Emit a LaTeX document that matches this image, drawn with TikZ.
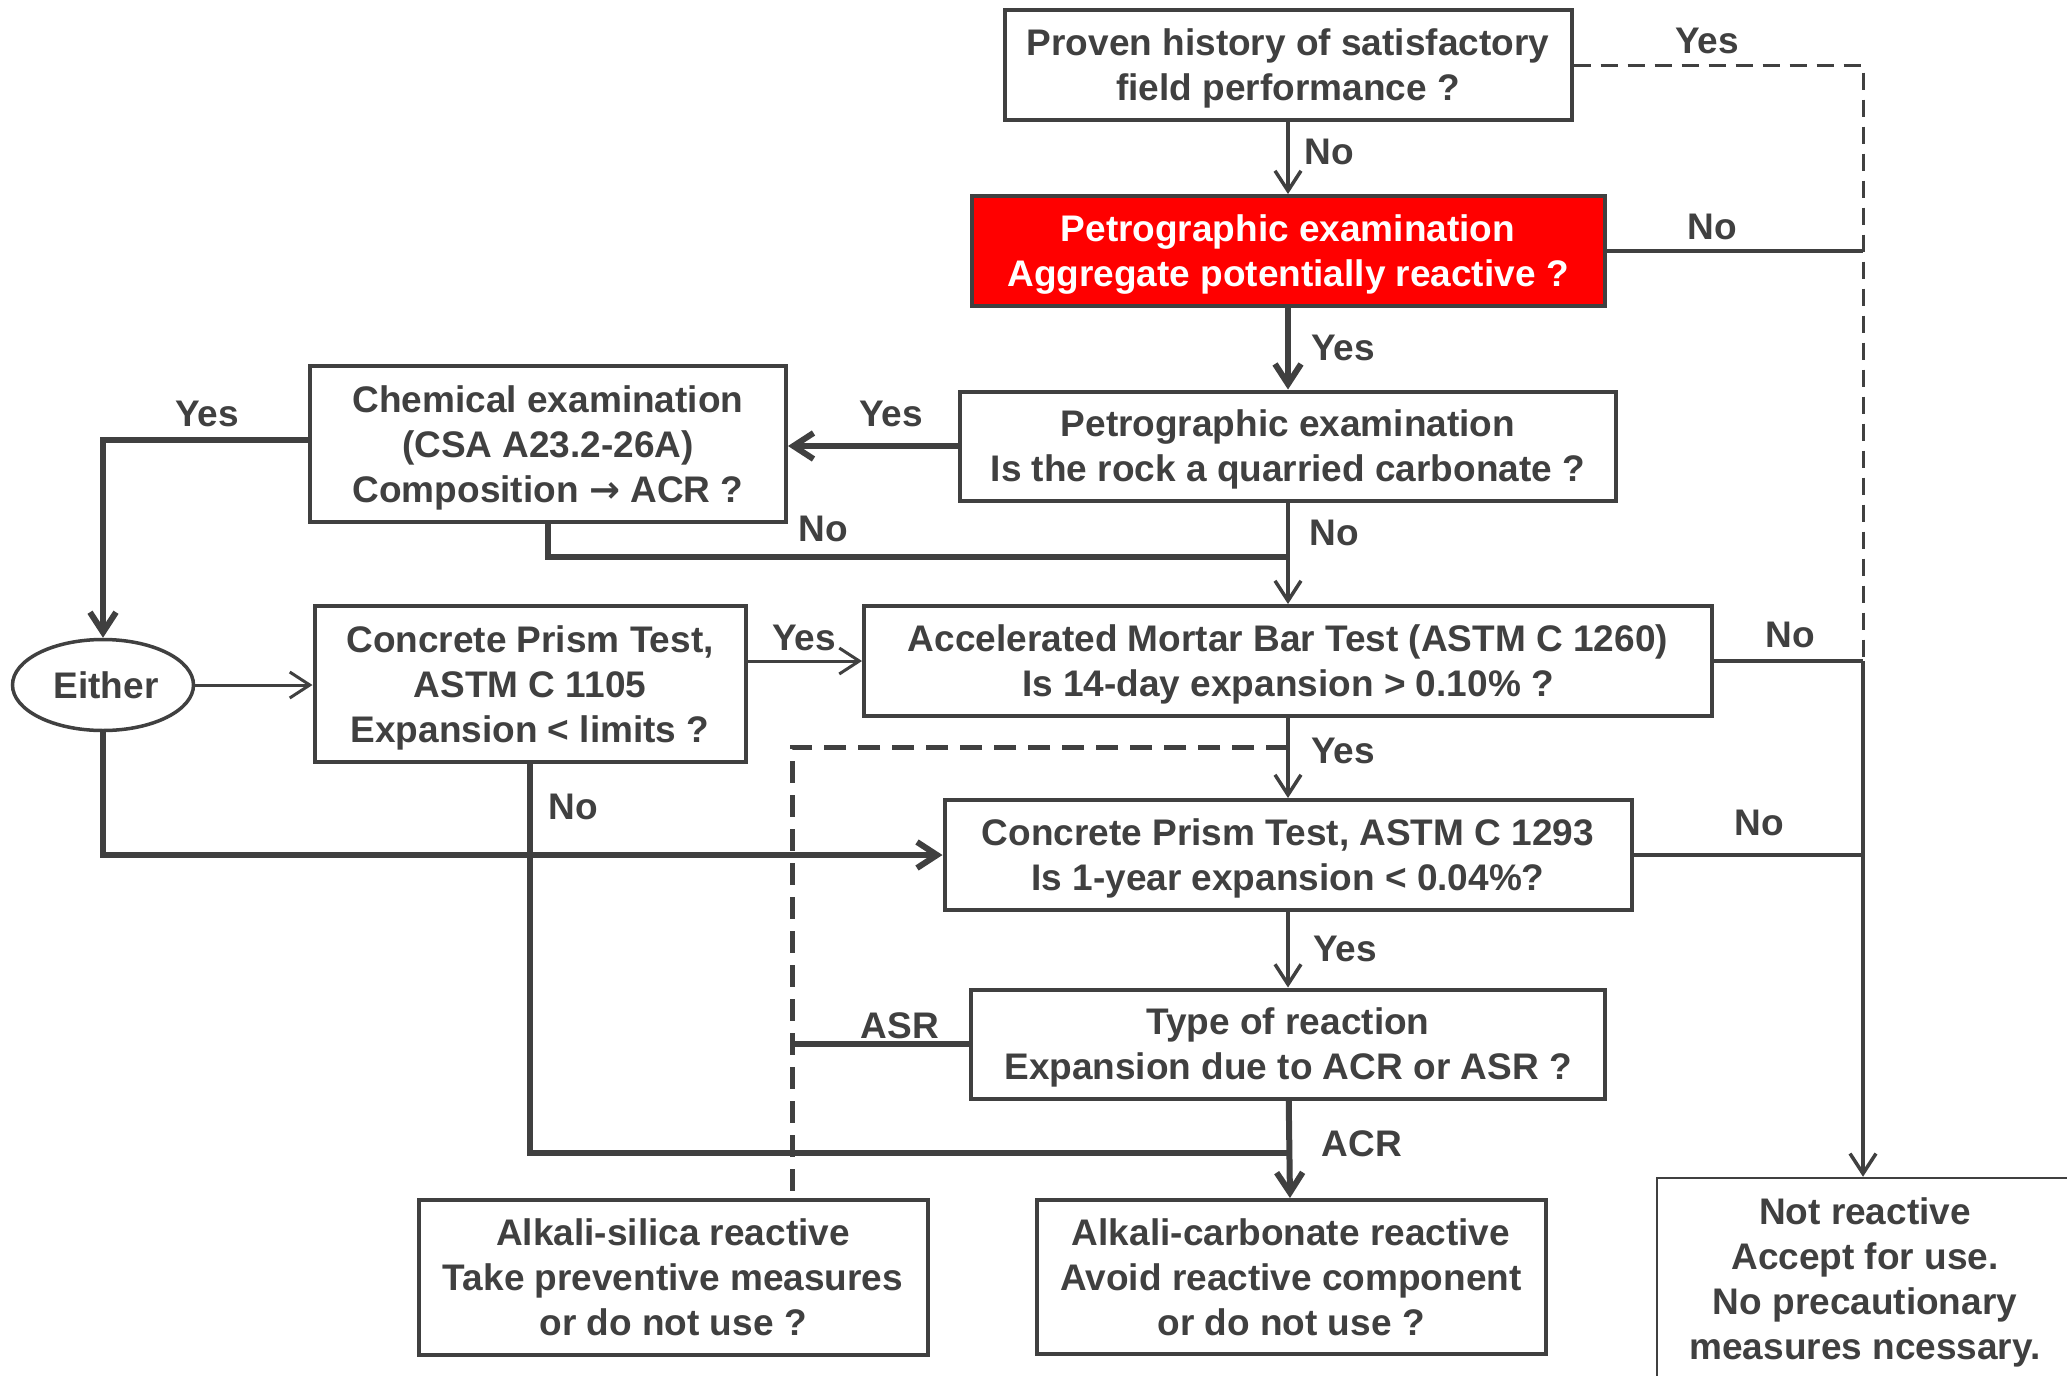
\documentclass[tikz,border=0pt]{standalone}
\usepackage{fontspec}
\setmainfont{Liberation Sans}
\newfontfamily\arrowfont{DejaVu Sans}
\usepackage{xcolor}
\usepackage{tikz}
\usetikzlibrary{arrows.meta, shapes, calc, positioning}
\definecolor{ink}{HTML}{404040}

\begin{document}
\begin{tikzpicture}[x=1pt, y=-1pt, ink,
	every node/.style={font=\fontsize{37}{45}\selectfont\bfseries, text=ink},
	box/.style={draw=ink, line width=4pt, fill=white, align=center, inner sep=0pt, text depth=0pt},
	oval/.style={draw=ink, ellipse, line width=3.5pt, inner sep=0pt, minimum width=181pt, minimum height=91pt},
	lbl/.style={inner sep=0pt},
	line/.style={draw=ink, line width=3.5pt},
	nline/.style={draw=ink, line width=3pt},
	wline/.style={draw=ink, line width=6pt},
	dline/.style={draw=ink, line width=3pt, dash pattern=on 17pt off 10pt},
	dlinew/.style={draw=ink, line width=5pt, dash pattern=on 22pt off 12pt},
	arr/.style={-{Straight Barb[length=20pt,width=26pt]}}]
	
	%//page
	\fill[white, use as bounding box] (0,0) rectangle (2067,1376);
	\clip (0,0) rectangle (2067,1376);
	
	%//main column
	\node[box, minimum width=567pt, minimum height=110pt] (proven) at (1288,65) {Proven history of satisfactory\\field performance ?};
	\node[box, fill=red, text=white, minimum width=633pt, minimum height=110pt] (petro) at (1288,251) {Petrographic examination\\Aggregate potentially reactive ?};
	\node[box, minimum width=656pt, minimum height=109pt] (carb) at (1288,446) {Petrographic examination\\Is the rock a quarried carbonate ?};
	\node[box, minimum width=848pt, minimum height=110pt] (ambt) at (1288,661) {Accelerated Mortar Bar Test (ASTM C 1260)\\Is 14-day expansion > 0.10\% ?};
	\node[box, minimum width=687pt, minimum height=110pt] (cptb) at (1288,855) {Concrete Prism Test, ASTM C 1293\\Is 1-year expansion < 0.04\%?};
	\node[box, minimum width=634pt, minimum height=109pt] (rtype) at (1288,1044) {Type of reaction\\Expansion due to ACR or ASR ?};
	
	%//left side
	\node[box, minimum width=476pt, minimum height=156pt] (chem) at (548,444) {Chemical examination\\(CSA A23.2-26A)\\Composition {\arrowfont\bfseries →} ACR ?};
	\node[box, minimum width=431pt, minimum height=156pt] (cpta) at (530,684) {Concrete Prism Test,\\ASTM C 1105\\Expansion < limits ?};
	\node[oval] (either) at (103,685) {\hspace*{6pt}Either};
	
	%//results
	\node[box, minimum width=509pt, minimum height=155pt] (asr) at (673,1277) {Alkali-silica reactive\\Take preventive measures\\or do not use ?};
	\node[box, minimum width=509pt, minimum height=154pt] (acr) at (1291,1277) {Alkali-carbonate reactive\\Avoid reactive component\\or do not use ?};
	\node[box, line width=2.5pt, minimum width=416pt, minimum height=202pt] (notr) at (1865,1279) {Not reactive\\Accept for use.\\No precautionary\\measures ncessary.};
	
	\coordinate (rj) at (1863,661);
	\coordinate (nj) at (1288,557);
	\coordinate (dj) at (1288,747);
	\coordinate (dk) at (792,1193);
	\coordinate (aj) at (1288,1153);
	
	%//connectors
	\draw[line, arr] (proven) -- (petro);
	\draw[dline] (proven.east) -| (rj);
	\draw[line] (petro.east) -- (petro.east -| rj);
	\draw[wline, arr] (petro) -- (carb);
	\draw[wline, arr] (carb.west) -- (carb.west -| chem.east);
	\draw[line, arr] (carb) -- (ambt);
	\draw[wline] (chem.south) |- (nj);
	\draw[wline, arr] ([yshift=4pt]chem.west) -| (either.north);
	\draw[nline, arr] (either.east) -- (either.east -| cpta.west);
	\draw[nline, arr] (cpta.east |- ambt.west) -- (ambt.west);
	\draw[line] (ambt.east) -- (rj);
	\draw[line, arr] (rj) -- (rj |- notr.north);
	\draw[line] (cptb.east) -- (cptb.east -| rj);
	\draw[line, arr] (ambt) -- (cptb);
	\draw[dlinew] (dj) -| (dk);
	\draw[line, arr] (cptb) -- (rtype);
	\draw[wline] (rtype.west) -- (rtype.west -| dk);
	\draw[wline, arr] (rtype) -- (acr);
	\draw[wline] (cpta.south) |- (aj);
	\draw[wline, arr] (either.south) |- (cptb.west);
	
	%//labels
	\foreach \x/\y/\t [count=\i] in {1707/41/Yes, 1329/152/No, 1712/227/No, 1343/348/Yes, 891/414/Yes, 207/414/Yes, 823/529/No, 1334/533/No, 804/638/Yes, 1790/635/No, 1343/751/Yes, 573/807/No, 1759/823/No, 1345/949/Yes, 900/1026/ASR, 1362/1144/ACR}
	\node[lbl] (lbl\i) at (\x,\y) {\t};
\end{tikzpicture}
\end{document}
